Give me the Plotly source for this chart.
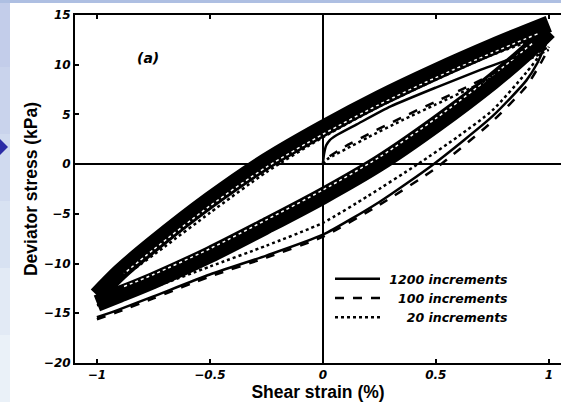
import plotly.graph_objects as go

# ---------------- data ----------------
# stable cycles (overlapping band of many loops)
band_up_x = [1.0, 0.9, 0.75, 0.5, 0.25, 0.0, -0.25, -0.5, -0.75, -0.9, -1.0]
band_up_y = [14.1, 13.2, 11.8, 9.3, 6.6, 3.6, 0.3, -3.6, -8.0, -10.9, -13.2]
band_lo_x = [-1.0, -0.9, -0.75, -0.5, -0.25, 0.0, 0.25, 0.5, 0.75, 0.9, 1.0]
band_lo_y = [-14.0, -13.1, -11.7, -9.1, -6.2, -3.2, 0.1, 4.0, 8.3, 11.2, 13.4]
# thin gaps between overlapping cycles inside the band
gap_up_x = [0.95, 0.75, 0.5, 0.25, 0.0, -0.25, -0.5, -0.75, -0.88]
gap_up_y = [13.1, 11.2, 8.7, 6.0, 3.0, -0.3, -4.2, -8.6, -11.0]
gap_lo_x = [-0.88, -0.75, -0.5, -0.25, 0.0, 0.25, 0.5, 0.75, 0.93]
gap_lo_y = [-12.3, -11.1, -8.5, -5.6, -2.6, 0.7, 4.6, 8.9, 12.2]

# 1200 increments
s1200_init_x = [0.0, 0.005, 0.015, 0.03, 0.06, 0.15, 0.3, 0.5, 0.7, 0.9, 1.0]
s1200_init_y = [0.0, 1.0, 1.9, 2.4, 2.9, 4.0, 5.8, 7.7, 9.5, 11.2, 12.4]
s1200_rel_x = [-1.0, -0.9, -0.75, -0.5, -0.25, 0.0, 0.25, 0.49, 0.75, 0.9, 0.95, 1.0]
s1200_rel_y = [-15.4, -14.6, -13.3, -11.1, -9.2, -7.1, -3.8, 0.0, 4.8, 8.4, 10.2, 12.8]

# 100 increments
s100_init_x = [0.03, 0.1, 0.2, 0.35, 0.5, 0.65, 0.8, 0.9, 1.0]
s100_init_y = [0.8, 1.8, 3.0, 4.7, 6.3, 7.9, 9.6, 10.6, 11.8]
s100_rel_x = [-1.0, -0.9, -0.75, -0.5, -0.25, 0.0, 0.25, 0.5, 0.75, 0.9, 0.95, 0.98, 1.0]
s100_rel_y = [-15.6, -14.8, -13.5, -11.3, -9.4, -7.3, -4.1, -0.4, 4.3, 7.8, 9.6, 10.8, 11.8]

# 20 increments
s20_init_x = [0.0, 0.02, 0.05, 0.1, 0.2, 0.35, 0.5, 0.65, 0.8, 0.9, 1.0]
s20_init_y = [0.0, 0.5, 0.9, 1.5, 2.7, 4.4, 6.0, 7.6, 9.3, 10.4, 11.5]
s20_up_x = [1.0, 0.75, 0.5, 0.25, 0.0, -0.25, -0.5, -0.7, -0.85, -0.95, -1.0]
s20_up_y = [13.0, 11.0, 8.5, 5.8, 2.7, -0.8, -4.9, -8.3, -10.8, -12.5, -13.4]
s20_lo_x = [-1.0, -0.9, -0.75, -0.5, -0.25, 0.0, 0.2, 0.42, 0.6, 0.75, 0.9, 0.97, 1.0]
s20_lo_y = [-14.2, -13.6, -12.4, -10.3, -8.2, -5.9, -3.2, 0.0, 2.8, 5.4, 9.2, 11.3, 12.8]

x_ticks = [-1, -0.5, 0, 0.5, 1]
x_tick_text = ["\u22121", "\u22120.5", "0", "0.5", "1"]
y_ticks = [-20, -15, -10, -5, 0, 5, 10, 15]
y_tick_text = ["\u221220", "\u221215", "\u221210", "\u22125", "0", "5", "10", "15"]

# ---------------- figure ----------------
W, H = 561, 402
ML, MR, MT, MB = 75, 0, 15, 39
PW, PH = W - ML - MR, H - MT - MB

def xp(px):
    return (px - ML) / PW

def yp(py):
    return (H - MB - py) / PH

tick_font = dict(family="DejaVu Sans", size=12, color="black", weight="bold", style="italic")
title_font = dict(family="Liberation Sans, Arial", size=17.5, color="black", weight="bold")

fig = go.Figure()

band_style = dict(color="black", width=17, shape="spline", smoothing=0.8)
fig.add_trace(go.Scatter(x=band_up_x, y=band_up_y, mode="lines", line=band_style,
                         showlegend=False, legendgroup="g1200", hoverinfo="skip"))
fig.add_trace(go.Scatter(x=band_lo_x, y=band_lo_y, mode="lines", line=band_style,
                         showlegend=False, legendgroup="g1200", hoverinfo="skip"))
gap_style = dict(color="white", width=1.5, dash="3px,3px", shape="spline", smoothing=0.8)
fig.add_trace(go.Scatter(x=gap_up_x, y=gap_up_y, mode="lines", line=gap_style,
                         showlegend=False, legendgroup="g1200", hoverinfo="skip"))
fig.add_trace(go.Scatter(x=gap_lo_x, y=gap_lo_y, mode="lines", line=gap_style,
                         showlegend=False, legendgroup="g1200", hoverinfo="skip"))

def join(*segs):
    xs, ys = [], []
    for i, (sx, sy) in enumerate(segs):
        if i:
            xs.append(None)
            ys.append(None)
        xs += list(sx)
        ys += list(sy)
    return xs, ys

NB = "\u00a0"
x1, y1 = join((s1200_init_x, s1200_init_y), (s1200_rel_x, s1200_rel_y))
fig.add_trace(go.Scatter(x=x1, y=y1, mode="lines", name=NB + "1200 increments", legendgroup="g1200",
                         line=dict(color="black", width=2.5, dash="solid", shape="spline", smoothing=0.6)))
x2, y2 = join((s100_init_x, s100_init_y), (s100_rel_x, s100_rel_y))
fig.add_trace(go.Scatter(x=x2, y=y2, mode="lines", name=NB * 3 + "100 increments", legendgroup="g100",
                         line=dict(color="black", width=2.5, dash="dash", shape="spline", smoothing=0.6)))
x3, y3 = join((s20_init_x, s20_init_y), (s20_up_x, s20_up_y), (s20_lo_x, s20_lo_y))
fig.add_trace(go.Scatter(x=x3, y=y3, mode="lines", name=NB * 5 + "20 increments", legendgroup="g20",
                         line=dict(color="black", width=2.5, dash="dot", shape="spline", smoothing=0.6)))

shapes = []
# decorative slide background (left and top strips, arrow)
strip_cols = ["#c3cdea", "#c9d3ec", "#d0daef", "#d8e2f2", "#e2eaf5", "#eaf1f8"]
n = len(strip_cols)
for i, c in enumerate(strip_cols):
    shapes.append(dict(type="rect", xref="paper", yref="paper", layer="below",
                       x0=xp(0), x1=xp(10), y0=yp(H * (i + 1) / n), y1=yp(H * i / n),
                       fillcolor=c, line=dict(width=0)))
shapes.append(dict(type="rect", xref="paper", yref="paper", layer="below",
                   x0=xp(0), x1=xp(W), y0=yp(3), y1=yp(0),
                   fillcolor="#aebfe2", line=dict(width=0)))
shapes.append(dict(type="path", xref="paper", yref="paper", layer="above",
                   path="M {a},{b} L {c},{d} L {a},{e} Z".format(a=xp(0), b=yp(139), c=xp(8), d=yp(147), e=yp(155)),
                   fillcolor="#2c2ca6", line=dict(width=0)))

fig.update_layout(
    width=W, height=H,
    margin=dict(l=ML, r=MR, t=MT, b=MB, autoexpand=False),
    paper_bgcolor="white", plot_bgcolor="white",
    shapes=shapes,
    showlegend=True,
    legend=dict(x=xp(330), y=yp(264), xanchor="left", yanchor="top",
                bgcolor="rgba(0,0,0,0)", borderwidth=0, itemwidth=45,
                tracegroupgap=6, traceorder="normal",
                font=dict(family="DejaVu Sans", size=12.5, color="black", weight="bold", style="italic")),
    xaxis=dict(range=[-1.097, 1.054], tickvals=x_ticks, ticktext=x_tick_text,
               ticks="inside", ticklen=4, tickwidth=1.5, tickcolor="black",
               showline=True, linecolor="black", linewidth=2, mirror="ticks",
               showgrid=False, zeroline=True, zerolinecolor="black", zerolinewidth=1.5,
               tickfont=tick_font,
               title=dict(text="Shear strain (%)", font=title_font, standoff=0)),
    yaxis=dict(range=[-20, 15], tickvals=y_ticks, ticktext=y_tick_text,
               ticks="inside", ticklen=4, tickwidth=1.5, tickcolor="black",
               showline=True, linecolor="black", linewidth=2, mirror=False,
               showgrid=False, zeroline=True, zerolinecolor="black", zerolinewidth=1.5,
               tickfont=tick_font,
               title=dict(text="Deviator stress (kPa)", font=title_font, standoff=2)),
    annotations=[dict(x=-0.775, y=10.7, xref="x", yref="y", text="(a)", showarrow=False,
                      font=dict(family="DejaVu Sans", size=14, color="black", weight="bold", style="italic"))],
)

fig.write_html("out.html")
